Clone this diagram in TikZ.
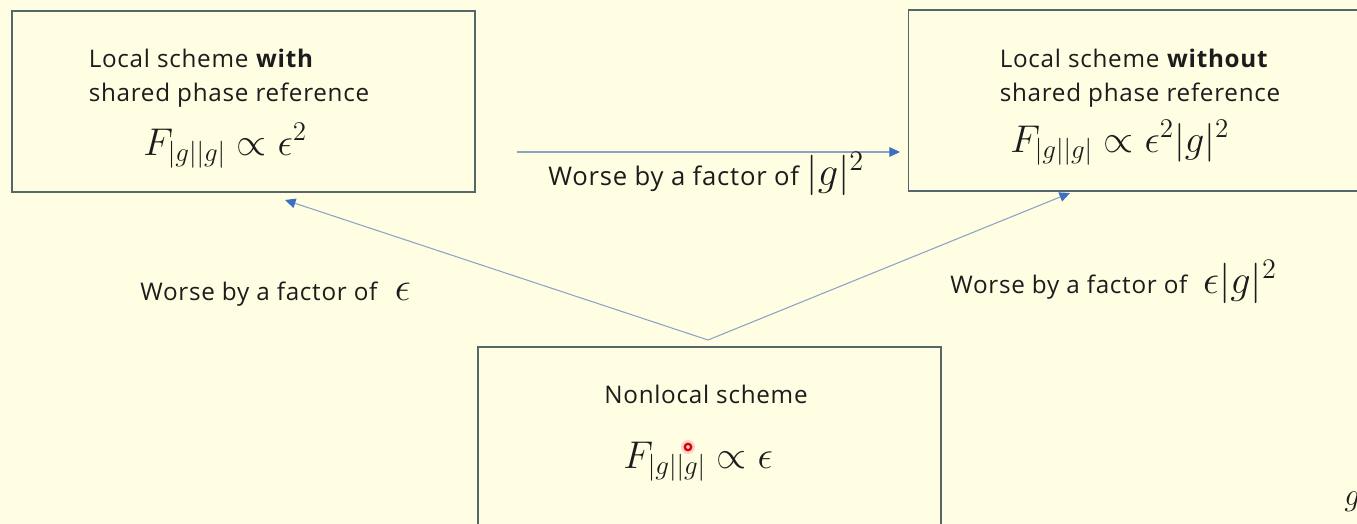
\RequirePackage{fix-cm}
\documentclass[tikz,border=0pt]{standalone}
\usepackage[no-math]{fontspec}
\setsansfont[LetterSpace=3]{Open Sans}
\usetikzlibrary{arrows.meta,positioning}
\definecolor{slidebg}{HTML}{FFFEE3}
\definecolor{boxline}{HTML}{56676B}
\definecolor{arrowblue}{HTML}{3E6FC0}
\definecolor{linkline}{HTML}{8CA3C6}
\definecolor{inkblack}{HTML}{1C1C1C}
\newcommand{\labmath}[1]{{\fontsize{23}{24}\selectfont$#1$}}

\begin{document}
\begin{tikzpicture}[x=0.02cm,y=-0.02cm,
  box/.style={draw=boxline,line width=0.9pt,minimum width=9.26cm,minimum height=3.62cm,inner sep=0pt},
  txt/.style={font=\sffamily\fontsize{13.8}{19.5}\selectfont,text=inkblack,inner sep=0pt},
  fml/.style={font=\fontsize{22}{24}\selectfont,text=inkblack,inner sep=0pt},
  link/.style={draw=linkline,line width=0.6pt,-{Triangle[length=6pt,width=5.5pt,color=arrowblue]}}]
  \useasboundingbox (0,0) rectangle (1357,524);
  \fill[slidebg] (0,0) rectangle (1357,524);
  \clip (0,0) rectangle (1357,524);

  % the three schemes
  \node[box] (withref) at (243.5,101.5) {};
  \node[box] (noref) at (1140,100.5) {};
  \node[box] (nonlocal) at (709.5,437.5) {};

  \node[txt,align=left] (withtxt) at (229,78) {Local scheme \textbf{with}\\shared phase reference};
  \node[fml,anchor=base west] (withfml) at (143,155) {$F_{|g||g|}\propto\epsilon^2$};
  \node[txt,align=left] (notxt) at (1140,78) {Local scheme \textbf{without}\\shared phase reference};
  \node[fml,anchor=base west] (nofml) at (1010,152) {$F_{|g||g|}\propto\epsilon^2|g|^2$};
  \node[txt,anchor=base] (nltxt) at (706,403) {Nonlocal scheme};
  \node[fml,anchor=base west] (nlfml) at (623,468) {$F_{|g||g|}\propto\epsilon$};

  % connectors
  \coordinate (apex) at (708,340);
  \coordinate (lefttip) at (285,200);
  \coordinate (righttip) at (1070,193);
  \coordinate (hstart) at (517,152);
  \coordinate (hend) at (900,152);
  \draw[link] (apex) -- (lefttip);
  \draw[link] (apex) -- (righttip);
  \draw[link] (hstart) -- (hend);

  \node[txt,anchor=base west,font=\sffamily\fontsize{14.6}{19.5}\selectfont] (hlab) at (548,185) {Worse by a factor of \labmath{|g|^2}};
  \node[txt,anchor=base west] (llab) at (140,300) {Worse by a factor of\hspace{10pt}\labmath{\epsilon}};
  \node[txt,anchor=base west] (rlab) at (950,293) {Worse by a factor of\hspace{9pt}\labmath{\epsilon|g|^2}};

  \node[fml,anchor=base west,font=\fontsize{18}{20}\selectfont] (pageno) at (1344,505) {$g$};
  % pointer dot
  \fill[red!25,opacity=0.7] (688,447) circle (7);
  \draw[red!85!black,line width=1.3pt] (688,447) circle (3.2);
\end{tikzpicture}
\end{document}
